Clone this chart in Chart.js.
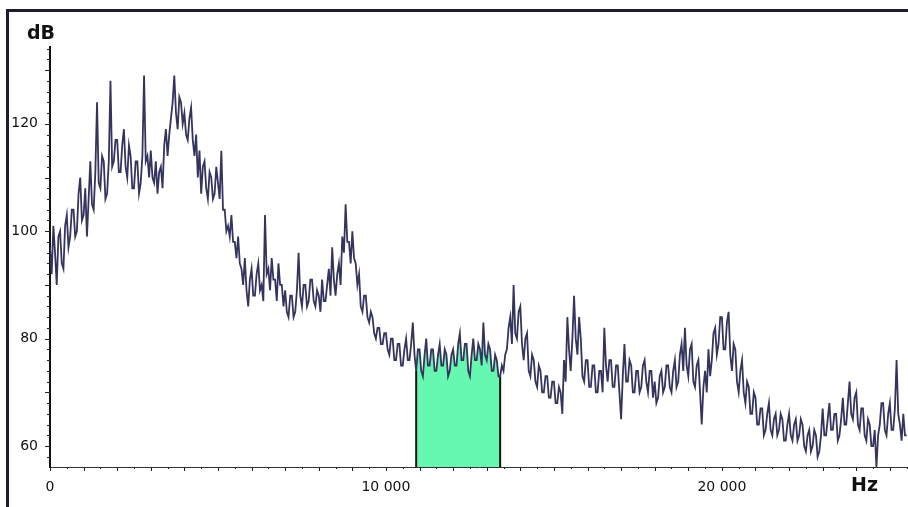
<!DOCTYPE html>
<html>
<head>
<meta charset="utf-8">
<script src="https://cdn.jsdelivr.net/npm/chart.js@4.4.1/dist/chart.umd.min.js"></script>
<style>
  body { margin: 0; background: #fff; }
  #wrap { position: relative; width: 908px; height: 507px; overflow: hidden; }
  #frame { position: absolute; left: 6px; top: 9px; width: 920px; height: 520px;
           border-left: 3px solid #1c1c2c; border-top: 3px solid #1c1c2c; }
</style>
</head>
<body>
<div id="wrap">
  <canvas id="spectrum" width="908" height="507"></canvas>
  <div id="frame"></div>
</div>
<script>
// Spectrum: level (dB) every 50 Hz
const freqStep = 50;
const levels = [
  97, 92, 101, 96, 90, 99, 100, 94, 93, 101, 103, 97, 99, 104, 104, 99, 100, 107, 110, 102,       // 0
  103, 108, 99, 106, 113, 105, 104, 111, 124, 109, 108, 114, 113, 106, 107, 113, 128, 112, 113, 117, // 1000
  117, 111, 111, 116, 119, 112, 110, 116, 114, 108, 108, 113, 113, 107, 109, 114, 129, 113, 114, 110, // 2000
  115, 110, 109, 113, 107, 111, 112, 108, 116, 119, 114, 118, 121, 124, 129, 122, 119, 125, 124, 120, // 3000
  122, 118, 117, 121, 123, 117, 114, 118, 110, 115, 107, 112, 113, 108, 106, 111, 110, 106, 107, 112, // 4000
  109, 106, 115, 104, 104, 100, 101, 99, 103, 98, 98, 95, 99, 94, 93, 90, 95, 89, 86, 91,          // 5000
  93, 88, 88, 92, 94, 89, 90, 87, 103, 92, 93, 89, 95, 91, 91, 87, 94, 90, 90, 86,                  // 6000
  89, 85, 84, 88, 88, 84, 85, 89, 96, 88, 86, 90, 90, 86, 87, 91, 91, 87, 86, 89,                   // 7000
  88, 85, 91, 87, 87, 90, 93, 88, 97, 91, 88, 92, 94, 90, 99, 96, 105, 98, 98, 94,                  // 8000
  100, 95, 94, 90, 92, 86, 85, 88, 88, 84, 83, 85, 84, 81, 80, 82, 82, 79, 79, 81,                  // 9000
  81, 78, 77, 80, 80, 76, 76, 79, 79, 75, 75, 78, 80, 76, 76, 79, 83, 77, 74, 78,                   // 10000
  78, 74, 73, 77, 80, 75, 75, 78, 78, 74, 74, 77, 79, 75, 75, 78, 77, 73, 74, 77,                   // 11000
  78, 75, 75, 79, 81, 76, 76, 79, 79, 74, 73, 77, 80, 76, 76, 79, 78, 75, 83, 77,                   // 12000
  76, 79, 78, 74, 74, 77, 76, 73, 73, 75, 74, 77, 78, 82, 84, 79, 90, 81, 80, 85,                   // 13000
  86, 79, 76, 80, 81, 74, 73, 77, 76, 72, 71, 75, 74, 70, 70, 73, 73, 69, 69, 72,                   // 14000
  72, 68, 68, 71, 70, 66, 76, 72, 84, 78, 74, 80, 88, 80, 77, 84, 80, 73, 72, 76,                   // 15000
  76, 71, 71, 75, 75, 70, 70, 74, 74, 70, 82, 75, 72, 76, 76, 71, 71, 75, 75, 70,                   // 16000
  65, 73, 79, 72, 72, 76, 75, 70, 70, 74, 74, 70, 71, 75, 76, 72, 70, 74, 74, 69,                   // 17000
  72, 68, 69, 73, 74, 70, 71, 75, 75, 71, 70, 74, 76, 71, 72, 77, 79, 74, 82, 75,                   // 18000
  73, 78, 79, 72, 71, 75, 76, 70, 64, 71, 74, 70, 78, 73, 76, 81, 82, 77, 79, 84,                   // 19000
  84, 78, 78, 83, 85, 77, 74, 79, 78, 72, 70, 74, 76, 70, 68, 72, 71, 66, 66, 70,                   // 20000
  69, 64, 64, 67, 67, 62, 63, 66, 68, 63, 62, 65, 66, 62, 63, 66, 65, 61, 61, 64,                   // 21000
  66, 62, 61, 64, 65, 61, 62, 65, 64, 60, 59, 62, 63, 59, 60, 63, 62, 58, 59, 62,                   // 22000
  67, 62, 62, 65, 68, 63, 63, 66, 66, 61, 62, 65, 69, 64, 64, 68, 72, 66, 65, 69,                   // 23000
  70, 64, 63, 67, 67, 62, 61, 65, 64, 60, 60, 63, 56, 62, 64, 68, 68, 63, 62, 66,                   // 24000
  68, 63, 63, 67, 76, 66, 64, 61, 66, 62, 62                                                        // 25000 - 25500
];

// highlighted band (Hz)
const bandStart = 10900;
const bandEnd = 13400;

// axis ranges, tick spacing and labels
const xMin = 0, xMax = 25540, xTickStep = 500;
const yMin = 56.1, yMax = 134.3, yTickStep = 2;
const xLabels = [0, 10000, 20000];
const yLabels = [60, 80, 100, 120];

const points = levels.map((v, i) => ({ x: i * freqStep, y: v }));
const bandPoints = [{ x: bandStart, y: yMin }]
  .concat(points.filter(p => p.x >= bandStart && p.x <= bandEnd))
  .concat([{ x: bandEnd, y: yMin }]);
const lastBand = bandPoints.length - 1;

function fmtHz(v) {
  return String(v).replace(/\B(?=(\d{3})+(?!\d))/g, ' ');
}

function tickList(from, to, step) {
  const out = [];
  for (let v = Math.ceil(from / step) * step; v <= to; v += step) out.push({ value: v });
  return out;
}

// tick marks of different lengths + axis unit labels
const axisDecor = {
  id: 'axisDecor',
  afterDraw(chart) {
    const ctx = chart.ctx;
    const xs = chart.scales.x, ys = chart.scales.y;
    ctx.save();
    ctx.strokeStyle = '#222';
    ctx.lineWidth = 1;
    ys.ticks.forEach(t => {
      const py = Math.round(ys.getPixelForValue(t.value)) + 0.5;
      const len = t.value % 10 === 0 ? 5 : 3;
      ctx.beginPath();
      ctx.moveTo(xs.left - len, py);
      ctx.lineTo(xs.left, py);
      ctx.stroke();
    });
    xs.ticks.forEach(t => {
      const px = Math.round(xs.getPixelForValue(t.value)) + 0.5;
      const len = t.value % 1000 === 0 ? 4 : 2;
      ctx.beginPath();
      ctx.moveTo(px, ys.bottom);
      ctx.lineTo(px, ys.bottom + len);
      ctx.stroke();
    });
    ctx.fillStyle = '#111';
    ctx.textAlign = 'left';
    ctx.textBaseline = 'alphabetic';
    ctx.font = 'bold 19px "DejaVu Sans"';
    ctx.fillText('dB', 27, 39);
    ctx.fillText('Hz', 851, 491);
    ctx.restore();
  }
};

const ctx = document.getElementById('spectrum').getContext('2d');

new Chart(ctx, {
  type: 'line',
  data: {
    datasets: [
      {
        label: 'level',
        data: points,
        borderColor: '#34345e',
        borderWidth: 1.8,
        pointRadius: 0,
        tension: 0,
        fill: false,
        order: 0
      },
      {
        label: 'band',
        data: bandPoints,
        backgroundColor: '#66f7b0',
        borderWidth: 2,
        segment: {
          borderColor: c => (c.p0DataIndex === 0 || c.p1DataIndex === lastBand) ? '#111' : 'rgba(0,0,0,0)'
        },
        pointRadius: 0,
        tension: 0,
        fill: 'start',
        order: 1
      }
    ]
  },
  options: {
    responsive: false,
    animation: false,
    devicePixelRatio: 1,
    layout: { autoPadding: false, padding: { top: 47, right: 0, left: 0, bottom: 0 } },
    plugins: {
      legend: { display: false },
      tooltip: { enabled: false }
    },
    scales: {
      x: {
        type: 'linear',
        min: xMin,
        max: xMax,
        grid: { display: false, drawTicks: false },
        border: { display: true, color: '#333', width: 1 },
        afterFit: s => { s.height = 40; s.paddingLeft = 0; s.paddingRight = 0; },
        afterBuildTicks: s => { s.ticks = tickList(xMin, xMax, xTickStep); },
        ticks: {
          autoSkip: false,
          maxRotation: 0,
          padding: 12,
          color: '#111',
          font: { family: 'DejaVu Sans', size: 14 },
          callback: v => xLabels.includes(v) ? fmtHz(v) : ''
        }
      },
      y: {
        min: yMin,
        max: yMax,
        grid: { display: false, drawTicks: false },
        border: { display: true, color: '#111', width: 2 },
        afterFit: s => { s.width = 50; s.paddingTop = 0; s.paddingBottom = 0; },
        afterBuildTicks: s => { s.ticks = tickList(yMin, yMax, yTickStep); },
        ticks: {
          autoSkip: false,
          padding: 12,
          color: '#111',
          font: { family: 'DejaVu Sans', size: 14 },
          callback: v => yLabels.includes(v) ? String(v) : ''
        }
      }
    }
  },
  plugins: [axisDecor]
});
</script>
</body>
</html>
